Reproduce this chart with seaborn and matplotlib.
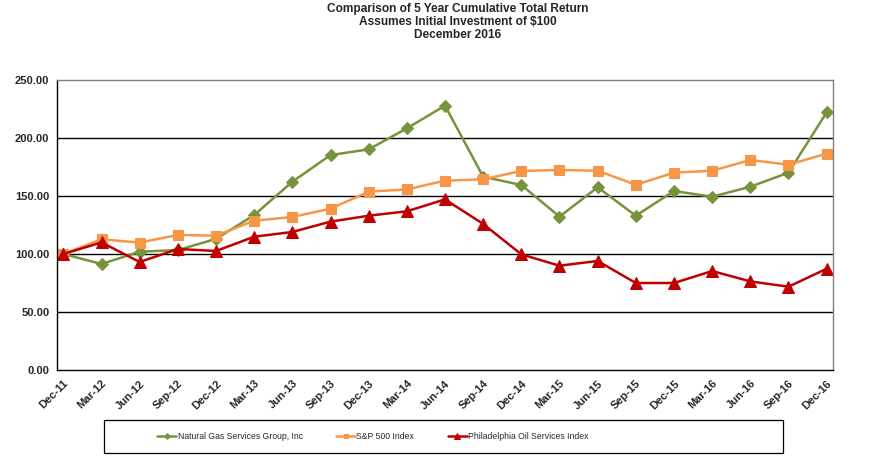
import matplotlib
matplotlib.use("Agg")
import matplotlib.pyplot as plt
from matplotlib.patches import Rectangle
import seaborn as sns
import numpy as np
import pandas as pd

quarters = ["Dec-11", "Mar-12", "Jun-12", "Sep-12", "Dec-12", "Mar-13", "Jun-13", "Sep-13",
            "Dec-13", "Mar-14", "Jun-14", "Sep-14", "Dec-14", "Mar-15", "Jun-15", "Sep-15",
            "Dec-15", "Mar-16", "Jun-16", "Sep-16", "Dec-16"]
ngs = [100.0, 91.4, 102.0, 103.4, 113.0, 133.6, 162.3, 185.3, 190.2, 208.3, 227.9,
       166.6, 159.5, 132.2, 157.5, 133.0, 154.3, 149.4, 158.0, 170.1, 222.1]
sp500 = [100.0, 112.7, 109.8, 116.4, 115.8, 128.7, 131.9, 139.1, 153.7, 155.7, 163.2,
         164.4, 171.6, 172.4, 171.8, 159.7, 170.1, 171.8, 181.0, 177.0, 186.5]
osx = [100.0, 110.0, 93.1, 104.3, 102.6, 114.9, 119.0, 127.9, 133.0, 136.8, 147.1,
       125.9, 99.7, 89.9, 94.0, 75.0, 75.0, 85.3, 76.4, 71.8, 87.3]
series_names = ["Natural Gas Services Group, Inc", "S&P 500 Index", "Philadelphia Oil Services Index"]
yticks = [0, 50, 100, 150, 200, 250]

sns.set_style("white")
plt.rcParams['font.family'] = ['Liberation Sans', 'DejaVu Sans']

fig = plt.figure(figsize=(8.96, 4.68), dpi=100)
ax = fig.add_axes([57/896, 1-370/468, (833-57)/896, (370-80)/468])

# monthly category axis, data every quarter
months_per_q = 3
xpos = np.arange(len(quarters)) * months_per_q

styles = [
    (ngs, "#77933C", "D", 6.5),
    (sp500, "#F79646", "s", 7),
    (osx, "#C00000", "^", 8.5),
]
for (vals, col, mk, ms), name in zip(styles, series_names):
    df = pd.DataFrame({"x": xpos, "y": vals})
    sns.lineplot(data=df, x="x", y="y", ax=ax, color=col, marker=mk, markersize=ms,
                 markeredgecolor=col, linewidth=1.8, label=name, legend=False)

ax.set_xlim(-0.5, xpos[-1] + 0.5)
ax.set_ylim(0, 250)
ax.set_yticks(yticks)
ax.set_yticklabels([f"{v:.2f}" for v in yticks], fontsize=8, fontweight="bold")
ax.set_xticks(xpos)
ax.set_xticklabels(quarters, rotation=45, ha="right", rotation_mode="anchor",
                   fontsize=8, fontweight="bold")
ax.set_xticks(np.arange(-0.5, xpos[-1] + 1, 1), minor=True)
ax.tick_params(axis="x", which="major", length=0, pad=6)
ax.tick_params(axis="x", which="minor", length=4, width=0.8, direction="out", color="black")
ax.tick_params(axis="y", which="major", length=4, width=0.8, direction="out", color="black", pad=1.5)
ax.set_xlabel("")
ax.set_ylabel("")
for y in [50, 100, 150, 200]:
    ax.axhline(y, color="black", linewidth=1.0, zorder=0)
ax.spines["left"].set_color("black")
ax.spines["bottom"].set_color("black")
ax.spines["top"].set_color("#808080")
ax.spines["right"].set_color("#808080")
for s in ax.spines.values():
    s.set_linewidth(1.0)

fig.suptitle("Comparison of 5 Year Cumulative Total Return\nAssumes Initial Investment of $100\nDecember 2016",
             x=458/896, y=1-3/468, fontsize=8.6, fontweight="bold", linespacing=1.1, va="top")

# legend box (drawn in figure pixels)
fig.patches.append(Rectangle((104/896, 1-453/468), (783-104)/896, (453-420)/468,
                             transform=fig.transFigure, fill=False, edgecolor="black",
                             linewidth=0.9))
h, l = ax.get_legend_handles_labels()
leg = fig.legend(h, l, loc="center left", bbox_to_anchor=(153/896, 1-436.5/468),
                 ncol=3, fontsize=6.2, frameon=False, columnspacing=3.9,
                 handlelength=2.2, handletextpad=0.15, markerscale=0.45, borderpad=0)

fig.savefig("out.png", dpi=100)
